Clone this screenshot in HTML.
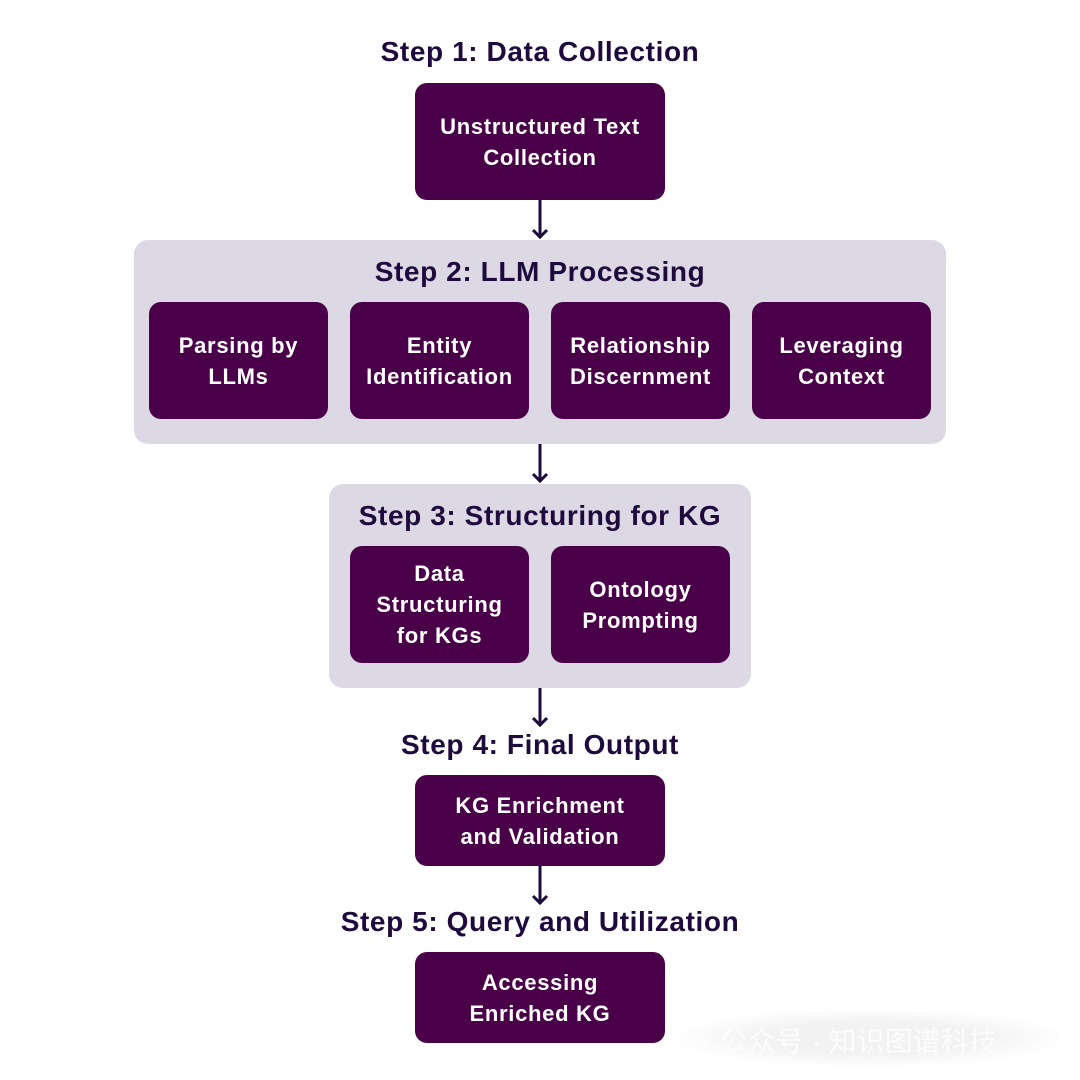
<!DOCTYPE html>
<html><head><meta charset="utf-8"><style>
body{margin:0;width:1080px;height:1080px;background:#fff;position:relative;overflow:hidden;font-family:"Liberation Sans",sans-serif}
.t{position:absolute;left:0;width:1080px;text-align:center;font-weight:bold;font-size:28px;letter-spacing:0.6px;color:#1f0a3d;line-height:30px}
.p{position:absolute;background:#dcd8e4;border-radius:14px}
.b{position:absolute;background:#4a0048;border-radius:12px;color:#fff;font-weight:bold;font-size:22px;letter-spacing:0.7px;line-height:31px;display:flex;align-items:center;justify-content:center;text-align:center}
svg.a{position:absolute;left:530px;width:20px}
</style></head><body>
<div class="t" style="top:37px">Step 1: Data Collection</div>
<div class="b" style="left:415px;top:83px;width:250px;height:117px">Unstructured Text<br>Collection</div>
<svg class="a" style="top:200px" height="40" viewBox="0 0 20 40"><path d="M10 0V38M3 30L10 37L17 30" stroke="#1f0a3d" stroke-width="3" fill="none"/></svg>
<div class="p" style="left:134px;top:240px;width:812px;height:204px"></div>
<div class="t" style="top:257px">Step 2: LLM Processing</div>
<div class="b" style="left:149px;top:302px;width:179px;height:117px">Parsing by<br>LLMs</div>
<div class="b" style="left:350px;top:302px;width:179px;height:117px">Entity<br>Identification</div>
<div class="b" style="left:551px;top:302px;width:179px;height:117px">Relationship<br>Discernment</div>
<div class="b" style="left:752px;top:302px;width:179px;height:117px">Leveraging<br>Context</div>
<svg class="a" style="top:444px" height="40" viewBox="0 0 20 40"><path d="M10 0V38M3 30L10 37L17 30" stroke="#1f0a3d" stroke-width="3" fill="none"/></svg>
<div class="p" style="left:329px;top:484px;width:422px;height:204px"></div>
<div class="t" style="top:501px">Step 3: Structuring for KG</div>
<div class="b" style="left:350px;top:546px;width:179px;height:117px">Data<br>Structuring<br>for KGs</div>
<div class="b" style="left:551px;top:546px;width:179px;height:117px">Ontology<br>Prompting</div>
<svg class="a" style="top:688px" height="40" viewBox="0 0 20 40"><path d="M10 0V38M3 30L10 37L17 30" stroke="#1f0a3d" stroke-width="3" fill="none"/></svg>
<div class="t" style="top:730px">Step 4: Final Output</div>
<div class="b" style="left:415px;top:775px;width:250px;height:91px">KG Enrichment<br>and Validation</div>
<svg class="a" style="top:866px" height="40" viewBox="0 0 20 40"><path d="M10 0V38M3 30L10 37L17 30" stroke="#1f0a3d" stroke-width="3" fill="none"/></svg>
<div class="t" style="top:907px">Step 5: Query and Utilization</div>
<div class="b" style="left:415px;top:952px;width:250px;height:91px">Accessing<br>Enriched KG</div>
<div style="position:absolute;left:680px;top:1010px;width:380px;height:56px;background:radial-gradient(ellipse at center,#f2f2f2 40%,#fff 75%)"></div>
<div style="position:absolute;left:695px;top:1020px;font-size:28px;color:#fcfcfc;font-family:'Liberation Sans','Noto Sans CJK SC',sans-serif">● 公众号 · 知识图谱科技</div>
</body></html>
